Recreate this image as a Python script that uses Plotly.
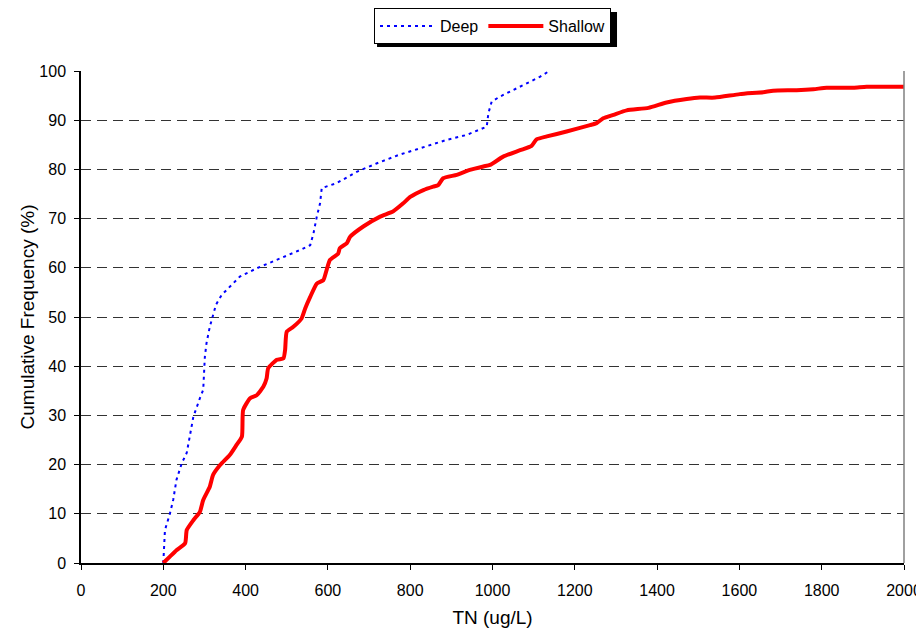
import plotly.graph_objects as go

# cumulative frequency curves
deep_tn = [200, 204, 216, 224, 232, 245, 257, 265, 273, 289, 297, 301, 305, 313, 328,
           342, 362, 386, 427, 476, 532, 557, 565, 573, 581, 585, 621, 670, 718, 771,
           808, 889, 937, 986, 990, 998, 1018, 1067, 1115, 1138]
deep_freq = [0, 6.7, 10, 12.8, 16.9, 20.3, 22.4, 25.7, 29.7, 33.5, 35.2, 41.9, 44.7, 48, 52.5,
             54.5, 56.2, 58.2, 59.9, 61.6, 63.6, 64.6, 67, 70.4, 73.1, 76.2, 77.2, 79.5, 81.2, 82.9,
             83.9, 86, 87, 88.7, 91.4, 93.8, 94.8, 96.8, 98.8, 100]

shallow_tn = [200, 216, 232, 253, 257, 273, 289, 297, 313, 321, 338, 362, 378, 391, 394,
              411, 427, 443, 451, 455, 476, 492, 496, 500, 516, 536, 545, 557, 573, 589,
              597, 605, 625, 629, 646, 654, 686, 727, 759, 783, 800, 832, 856, 868, 880,
              913, 945, 978, 994, 1026, 1067, 1095, 1107, 1132, 1180, 1237, 1253, 1269, 1294, 1326,
              1379, 1423, 1472, 1504, 1541, 1601, 1658, 1682, 1739, 1780, 1812, 1877, 1909, 2000]
shallow_freq = [0, 1.3, 2.6, 4, 6.7, 8.7, 10.4, 12.8, 15.5, 17.9, 19.9, 22, 24, 25.7, 31.1,
                33.5, 34.1, 35.8, 37.5, 39.6, 41.3, 41.6, 43.3, 47, 48, 49.7, 51.8, 54.1, 56.8, 57.5,
                59.6, 61.6, 62.9, 64, 65, 66.3, 68.4, 70.4, 71.5, 73.1, 74.4, 75.8, 76.5, 76.8, 78.2,
                78.9, 79.9, 80.6, 80.9, 82.6, 83.9, 84.8, 86.1, 86.7, 87.7, 89, 89.4, 90.4, 91.1, 92,
                92.5, 93.6, 94.3, 94.6, 94.6, 95.3, 95.7, 96, 96.1, 96.3, 96.6, 96.6, 96.8, 96.8]

FONT = "Liberation Sans"

fig = go.Figure()
fig.add_trace(go.Scatter(x=deep_tn, y=deep_freq, mode="lines", name="Deep",
                         line=dict(color="#0000FF", width=2, dash="3px,4px")))
fig.add_trace(go.Scatter(x=shallow_tn, y=shallow_freq, mode="lines", name="Shallow",
                         line=dict(color="#FF0000", width=4, shape="spline", smoothing=0.5)))

# page body adds an 8px margin, so the figure is offset by 8px inside the window
fig.update_layout(
    width=916, height=620,
    margin=dict(l=73, r=20, t=63, b=65, autoexpand=False),
    plot_bgcolor="white", paper_bgcolor="white",
    font=dict(family=FONT, size=16, color="black"),
    showlegend=True,
    legend=dict(orientation="h", x=0.5, xanchor="center", y=1.128, yanchor="top",
                bgcolor="white", bordercolor="black", borderwidth=1,
                itemwidth=55,
                font=dict(family=FONT, size=16)),
    xaxis=dict(range=[0, 2000], dtick=200, showgrid=False, zeroline=False,
               showline=True, linecolor="black", linewidth=1.5,
               ticks="outside", ticklen=5, tickcolor="black", ticklabelstandoff=7,
               title=dict(text="TN (ug/L)", standoff=14)),
    yaxis=dict(range=[0, 100], dtick=10, showgrid=True, gridcolor="#333333",
               gridwidth=1, griddash="10px,6px", zeroline=False,
               showline=True, linecolor="black", linewidth=1.5,
               ticks="outside", ticklen=5, tickcolor="black", ticklabelstandoff=5,
               title=dict(text="Cumulative Frequency (%)", standoff=0)),
    shapes=[
        # legend drop shadow
        dict(type="rect", xref="paper", yref="paper", x0=0.3597, x1=0.6513, y0=1.0488, y1=1.1199,
             fillcolor="black", line=dict(width=0), layer="above"),
        # right plot-area border
        dict(type="line", xref="paper", yref="paper", x0=1, x1=1, y0=0, y1=1,
             line=dict(color="#808080", width=1.5)),
    ],
)

fig.write_html("out.html")
